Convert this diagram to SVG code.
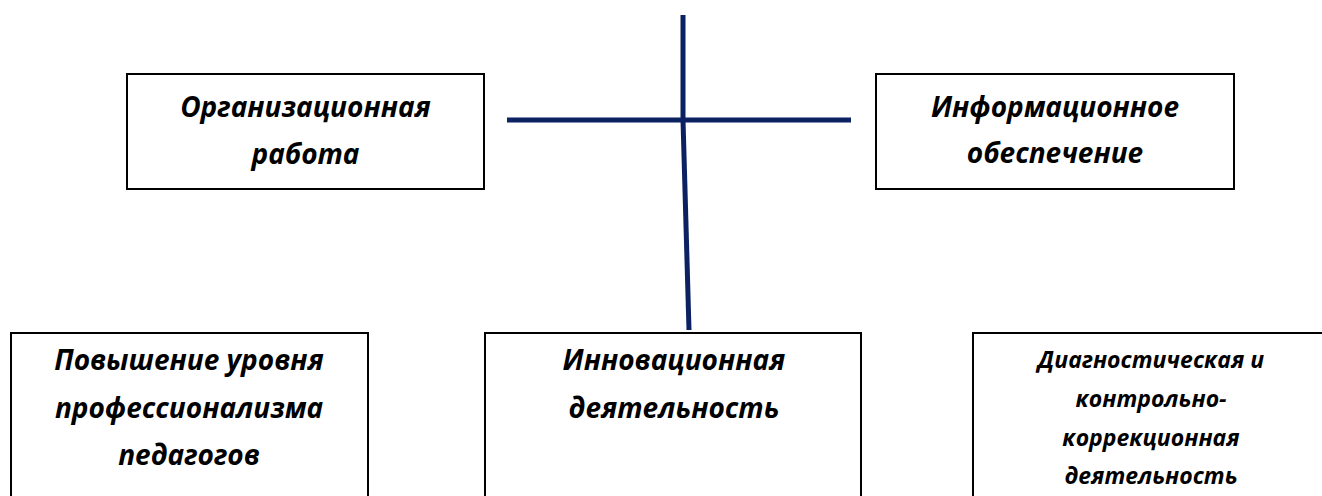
<svg xmlns="http://www.w3.org/2000/svg" width="1322" height="496" viewBox="0 0 1322 496">
<style>
.box{fill:#fff;stroke:#000;stroke-width:2}
.t{font-family:"Open Sans","Noto Sans","DejaVu Sans",sans-serif;font-weight:bold;font-style:italic;font-size:28px;fill:#000;text-anchor:middle}
.s{font-size:23px}
.c{stroke:#0b2161;stroke-width:5;fill:none}
</style>
<rect width="1322" height="496" fill="#fff"/>
<g id="connectors">
<line class="c" x1="683" y1="15" x2="683" y2="120"/>
<line class="c" x1="683" y1="120" x2="689" y2="330"/>
<line class="c" x1="507" y1="120" x2="851" y2="120"/>
</g>
<g id="org">
<rect class="box" x="127" y="74" width="357" height="115"/>
<text class="t" x="305.5" y="117">Организационная</text>
<text class="t" x="305.5" y="164">работа</text>
</g>
<g id="info">
<rect class="box" x="876" y="74" width="358" height="115"/>
<text class="t" x="1055" y="117">Информационное</text>
<text class="t" x="1055" y="163">обеспечение</text>
</g>
<g id="prof">
<rect class="box" x="11" y="333" width="357" height="180"/>
<text class="t" x="189" y="370">Повышение уровня</text>
<text class="t" x="189" y="418">профессионализма</text>
<text class="t" x="189" y="465">педагогов</text>
</g>
<g id="innov">
<rect class="box" x="485" y="333" width="376" height="180"/>
<text class="t" x="674" y="370">Инновационная</text>
<text class="t" x="674" y="418">деятельность</text>
</g>
<g id="diag">
<rect class="box" x="973" y="333" width="370" height="180"/>
<text class="t s" x="1151" y="368">Диагностическая и</text>
<text class="t s" x="1151" y="407">контрольно-</text>
<text class="t s" x="1151" y="446">коррекционная</text>
<text class="t s" x="1151" y="484">деятельность</text>
</g>
</svg>
